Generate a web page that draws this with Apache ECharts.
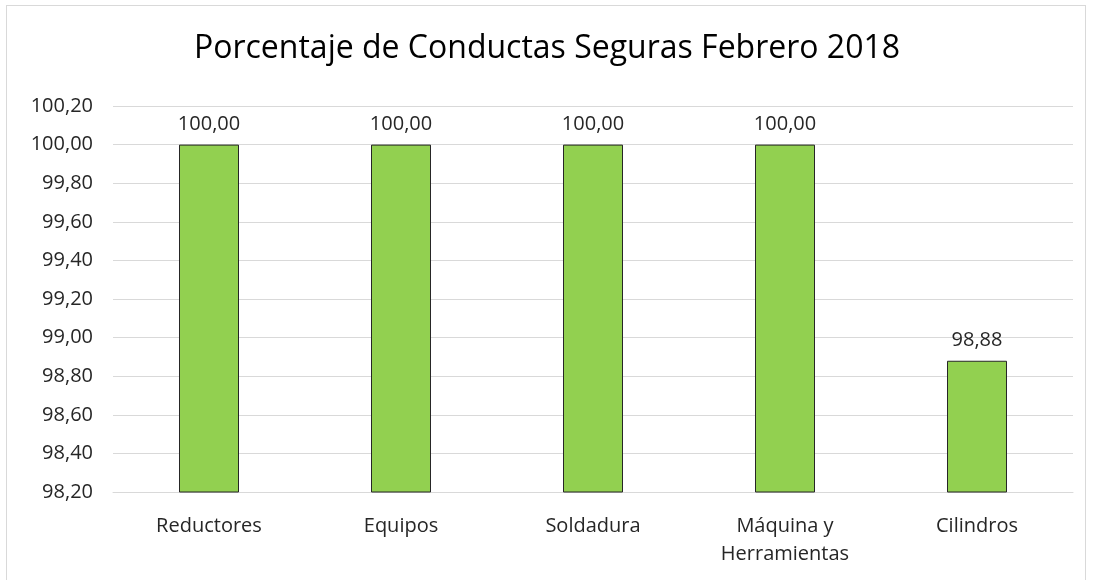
<!DOCTYPE html>
<html>
<head>
<meta charset="utf-8">
<script src="https://cdn.jsdelivr.net/npm/echarts@6/dist/echarts.min.js"></script>
<style>
    html, body { margin: 0; padding: 0; background: #fff; }
    #box {
        position: absolute; left: 6px; top: 5px;
        width: 1080px; height: 590px;
        border: 1px solid #d9d9d9; box-sizing: border-box;
    }
    #main { position: absolute; left: 0; top: 0; width: 1094px; height: 580px; }
</style>
</head>
<body>
<div id="box"></div>
<div id="main"></div>
<script>
var categorias = ['Reductores', 'Equipos', 'Soldadura', 'Máquina y\nHerramientas', 'Cilindros'];
var valores = [100.00, 100.00, 100.00, 100.00, 98.88];
var ejeMin = 98.2, ejeMax = 100.2, paso = 0.2;

function coma(v, d) {
    return v.toFixed(d).replace('.', ',');
}

function GraficoConductas() {
    var myChart = echarts.init(document.getElementById('main'));
    var fuente = 'Open Sans';
    var option = {
        backgroundColor: 'transparent',
        title: {
            text: 'Porcentaje de Conductas Seguras Febrero 2018',
            left: 'center',
            top: 28,
            textStyle: { fontFamily: fuente, fontSize: 32, fontWeight: 'normal', color: '#000' }
        },
        grid: { left: 113, right: 21, top: 106, bottom: 88 },
        xAxis: {
            type: 'category',
            data: categorias,
            axisLine: { show: true, lineStyle: { color: '#d9d9d9', width: 1 } },
            axisTick: { show: false },
            axisLabel: {
                margin: 20, fontFamily: fuente, fontSize: 20, color: '#262626', lineHeight: 28
            }
        },
        yAxis: {
            type: 'value',
            min: ejeMin, max: ejeMax, interval: paso,
            axisLine: { show: false },
            axisTick: { show: false },
            splitLine: { lineStyle: { color: '#d9d9d9', width: 1 } },
            axisLabel: {
                margin: 20, fontFamily: fuente, fontSize: 20, color: '#262626',
                formatter: function (v) { return coma(v, 2); }
            }
        },
        series: [
            {
                type: 'bar',
                data: valores,
                barWidth: 60,
                itemStyle: { color: '#92d050', borderColor: '#262626', borderWidth: 1 },
                label: {
                    show: true, position: 'top', distance: 10,
                    fontFamily: fuente, fontSize: 20, color: '#262626',
                    formatter: function (p) { return coma(p.value, 2); }
                }
            }
        ]
    };
    myChart.setOption(option, true);
    return myChart;
}

window.onload = function () {
    var grafico = GraficoConductas();
    window.onresize = function () { grafico.resize(); };
};
</script>
</body>
</html>
